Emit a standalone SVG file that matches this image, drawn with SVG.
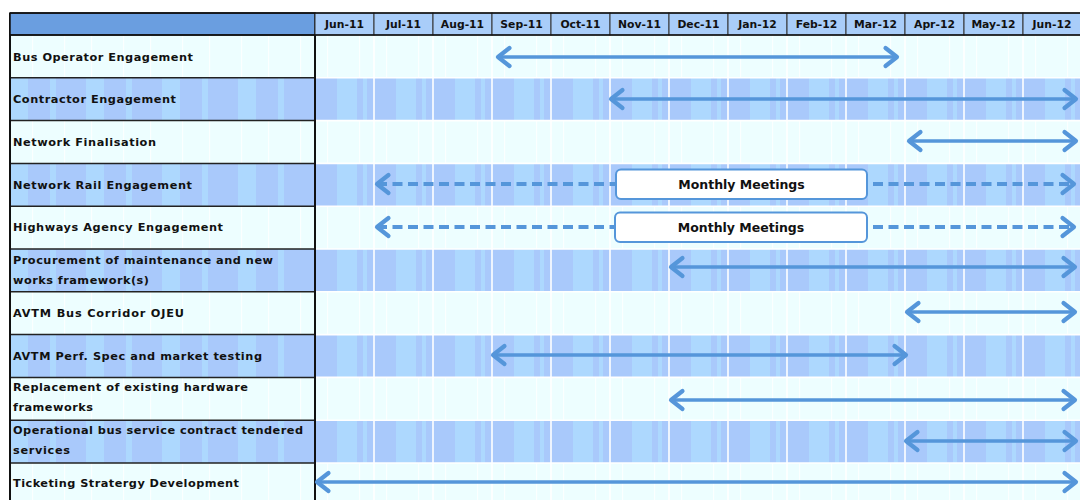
<svg xmlns="http://www.w3.org/2000/svg" width="1080" height="500" viewBox="0 0 1080 500">
<style>
.lbl{font-family:"DejaVu Sans","Liberation Sans",sans-serif;font-weight:bold;font-size:11.3px;fill:#111}
.mon{font-family:"DejaVu Sans","Liberation Sans",sans-serif;font-weight:bold;font-size:10.8px;fill:#111;text-anchor:middle}
.mm{font-family:"DejaVu Sans","Liberation Sans",sans-serif;font-weight:bold;font-size:12.5px;fill:#111;text-anchor:middle}
.arr{stroke:#5596DA;stroke-width:3.4;fill:none;marker-start:url(#chev);marker-end:url(#chev)}
.dash{stroke-dasharray:10 5.5;stroke-width:3.8}
.box{fill:#fff;stroke:#5596DA;stroke-width:2}
.sepw{stroke:#fff;stroke-width:1.6}
.sepk{stroke:#222;stroke-width:1.5}
.hcell{fill:#A9CDF9;stroke:#333;stroke-width:1}
</style>
<defs>
<marker id="chev" markerUnits="userSpaceOnUse" orient="auto-start-reverse" markerWidth="1" markerHeight="1" refX="0" refY="0" overflow="visible">
<path d="M-11.5,-9 L0,0 L-11.5,9" fill="none" stroke="#5596DA" stroke-width="4.2" stroke-linecap="round" stroke-linejoin="round"/>
</marker>
<pattern id="bluep" patternUnits="userSpaceOnUse" x="315" y="0" width="59" height="50">
<rect width="59" height="50" fill="#A9C9FB"/>
<rect x="22" width="20" height="50" fill="#ADD8FE"/>
<rect x="48" width="4" height="50" fill="#ADD8FE"/>
</pattern>
<pattern id="bluel" patternUnits="userSpaceOnUse" x="10" y="0" width="76" height="50">
<rect width="76" height="50" fill="#A9C9FB"/>
<rect x="0" width="18" height="50" fill="#ADD8FE"/>
<rect x="40" width="6" height="50" fill="#ADD8FE"/>
</pattern>
<pattern id="lightp" patternUnits="userSpaceOnUse" x="315" y="0" width="59" height="50">
<rect width="59" height="50" fill="#EDFEFF"/>
<rect x="12" width="1.2" height="50" fill="#FBFFFF"/>
<rect x="44" width="1.2" height="50" fill="#FBFFFF"/>
</pattern>
</defs>
<rect width="1080" height="500" fill="#fff"/>

<g id="rows">
<rect x="10" y="35" width="1070" height="42.8" fill="url(#lightp)"/>
<rect x="10" y="77.8" width="305" height="42.8" fill="url(#bluel)"/>
<rect x="315" y="77.8" width="765" height="42.8" fill="url(#bluep)"/>
<rect x="10" y="120.6" width="1070" height="42.8" fill="url(#lightp)"/>
<rect x="10" y="163.4" width="305" height="42.8" fill="url(#bluel)"/>
<rect x="315" y="163.4" width="765" height="42.8" fill="url(#bluep)"/>
<rect x="10" y="206.2" width="1070" height="42.8" fill="url(#lightp)"/>
<rect x="10" y="249" width="305" height="42.8" fill="url(#bluel)"/>
<rect x="315" y="249" width="765" height="42.8" fill="url(#bluep)"/>
<rect x="10" y="291.8" width="1070" height="42.8" fill="url(#lightp)"/>
<rect x="10" y="334.6" width="305" height="42.8" fill="url(#bluel)"/>
<rect x="315" y="334.6" width="765" height="42.8" fill="url(#bluep)"/>
<rect x="10" y="377.4" width="1070" height="42.8" fill="url(#lightp)"/>
<rect x="10" y="420.2" width="305" height="42.8" fill="url(#bluel)"/>
<rect x="315" y="420.2" width="765" height="42.8" fill="url(#bluep)"/>
<rect x="10" y="463" width="1070" height="42.8" fill="url(#lightp)"/>
</g>

<g id="grid">
<g class="sepw">
<line x1="374" y1="35" x2="374" y2="500"/><line x1="433" y1="35" x2="433" y2="500"/>
<line x1="492" y1="35" x2="492" y2="500"/><line x1="551" y1="35" x2="551" y2="500"/>
<line x1="610" y1="35" x2="610" y2="500"/><line x1="669" y1="35" x2="669" y2="500"/>
<line x1="728" y1="35" x2="728" y2="500"/><line x1="787" y1="35" x2="787" y2="500"/>
<line x1="846" y1="35" x2="846" y2="500"/><line x1="905" y1="35" x2="905" y2="500"/>
<line x1="964" y1="35" x2="964" y2="500"/><line x1="1023" y1="35" x2="1023" y2="500"/>
<line x1="315" y1="77.8" x2="1080" y2="77.8"/><line x1="315" y1="120.6" x2="1080" y2="120.6"/>
<line x1="315" y1="163.4" x2="1080" y2="163.4"/><line x1="315" y1="206.2" x2="1080" y2="206.2"/>
<line x1="315" y1="249" x2="1080" y2="249"/><line x1="315" y1="291.8" x2="1080" y2="291.8"/>
<line x1="315" y1="334.6" x2="1080" y2="334.6"/><line x1="315" y1="377.4" x2="1080" y2="377.4"/>
<line x1="315" y1="420.2" x2="1080" y2="420.2"/><line x1="315" y1="463" x2="1080" y2="463"/>
</g>
<g class="sepk">
<line x1="10" y1="77.8" x2="315" y2="77.8"/><line x1="10" y1="120.6" x2="315" y2="120.6"/>
<line x1="10" y1="163.4" x2="315" y2="163.4"/><line x1="10" y1="206.2" x2="315" y2="206.2"/>
<line x1="10" y1="249" x2="315" y2="249"/><line x1="10" y1="291.8" x2="315" y2="291.8"/>
<line x1="10" y1="334.6" x2="315" y2="334.6"/><line x1="10" y1="377.4" x2="315" y2="377.4"/>
<line x1="10" y1="420.2" x2="315" y2="420.2"/><line x1="10" y1="463" x2="315" y2="463"/>
</g>
<line x1="10" y1="13" x2="10" y2="500" stroke="#111" stroke-width="2"/>
<line x1="315" y1="13" x2="315" y2="500" stroke="#111" stroke-width="2"/>
</g>

<g id="header">
<rect x="10" y="13" width="305" height="22" fill="#6A9EE0" stroke="#111" stroke-width="1.5"/>
<rect class="hcell" x="315" y="13" width="59" height="22"/><text class="mon" x="344.5" y="28">Jun-11</text>
<rect class="hcell" x="374" y="13" width="59" height="22"/><text class="mon" x="403.5" y="28">Jul-11</text>
<rect class="hcell" x="433" y="13" width="59" height="22"/><text class="mon" x="462.5" y="28">Aug-11</text>
<rect class="hcell" x="492" y="13" width="59" height="22"/><text class="mon" x="521.5" y="28">Sep-11</text>
<rect class="hcell" x="551" y="13" width="59" height="22"/><text class="mon" x="580.5" y="28">Oct-11</text>
<rect class="hcell" x="610" y="13" width="59" height="22"/><text class="mon" x="639.5" y="28">Nov-11</text>
<rect class="hcell" x="669" y="13" width="59" height="22"/><text class="mon" x="698.5" y="28">Dec-11</text>
<rect class="hcell" x="728" y="13" width="59" height="22"/><text class="mon" x="757.5" y="28">Jan-12</text>
<rect class="hcell" x="787" y="13" width="59" height="22"/><text class="mon" x="816.5" y="28">Feb-12</text>
<rect class="hcell" x="846" y="13" width="59" height="22"/><text class="mon" x="875.5" y="28">Mar-12</text>
<rect class="hcell" x="905" y="13" width="59" height="22"/><text class="mon" x="934.5" y="28">Apr-12</text>
<rect class="hcell" x="964" y="13" width="59" height="22"/><text class="mon" x="993.5" y="28">May-12</text>
<rect class="hcell" x="1023" y="13" width="59" height="22" stroke-width="1.5"/><text class="mon" x="1052" y="28">Jun-12</text>
<line x1="10" y1="13" x2="1080" y2="13" stroke="#111" stroke-width="1.5"/>
<line x1="10" y1="35" x2="1080" y2="35" stroke="#111" stroke-width="1.5"/>
</g>

<g id="task-1"><text class="lbl" x="13" y="61" textLength="180" lengthAdjust="spacing">Bus Operator Engagement</text></g>
<g id="task-2"><text class="lbl" x="13" y="103" textLength="163" lengthAdjust="spacing">Contractor Engagement</text></g>
<g id="task-3"><text class="lbl" x="13" y="146" textLength="143" lengthAdjust="spacing">Network Finalisation</text></g>
<g id="task-4"><text class="lbl" x="13" y="188.5" textLength="179" lengthAdjust="spacing">Network Rail Engagement</text></g>
<g id="task-5"><text class="lbl" x="13" y="231" textLength="210" lengthAdjust="spacing">Highways Agency Engagement</text></g>
<g id="task-6"><text class="lbl" x="13" y="264" textLength="260" lengthAdjust="spacing">Procurement of maintenance and new</text><text class="lbl" x="13" y="284" textLength="136" lengthAdjust="spacing">works framework(s)</text></g>
<g id="task-7"><text class="lbl" x="13" y="316.5" textLength="171" lengthAdjust="spacing">AVTM Bus Corridor OJEU</text></g>
<g id="task-8"><text class="lbl" x="13" y="359.5" textLength="249" lengthAdjust="spacing">AVTM Perf. Spec and market testing</text></g>
<g id="task-9"><text class="lbl" x="13" y="391" textLength="235" lengthAdjust="spacing">Replacement of existing hardware</text><text class="lbl" x="13" y="411" textLength="80" lengthAdjust="spacing">frameworks</text></g>
<g id="task-10"><text class="lbl" x="13" y="434" textLength="290" lengthAdjust="spacing">Operational bus service contract tendered</text><text class="lbl" x="13" y="454" textLength="57" lengthAdjust="spacing">services</text></g>
<g id="task-11"><text class="lbl" x="13" y="487" textLength="226" lengthAdjust="spacing">Ticketing Stratergy Development</text></g>

<g id="connectors">
<line class="arr" x1="498" y1="57" x2="897" y2="57"/>
<line class="arr" x1="611" y1="99" x2="1076" y2="99"/>
<line class="arr" x1="909" y1="141" x2="1076" y2="141"/>
<line class="arr dash" x1="377" y1="184" x2="1074" y2="184"/>
<line class="arr dash" x1="377" y1="227" x2="1074" y2="227"/>
<line class="arr" x1="671" y1="267" x2="1075" y2="267"/>
<line class="arr" x1="907" y1="312" x2="1075" y2="312"/>
<line class="arr" x1="493" y1="355" x2="906" y2="355"/>
<line class="arr" x1="671" y1="400" x2="1075" y2="400"/>
<line class="arr" x1="906" y1="441" x2="1076" y2="441"/>
<line class="arr" x1="317" y1="482" x2="1076" y2="482"/>
</g>

<g id="meeting-1"><rect class="box" x="616" y="169.5" width="251" height="29.5" rx="5"/><text class="mm" x="741.5" y="189">Monthly Meetings</text></g>
<g id="meeting-2"><rect class="box" x="615" y="212.5" width="252" height="29.5" rx="5"/><text class="mm" x="741" y="232">Monthly Meetings</text></g>
</svg>
